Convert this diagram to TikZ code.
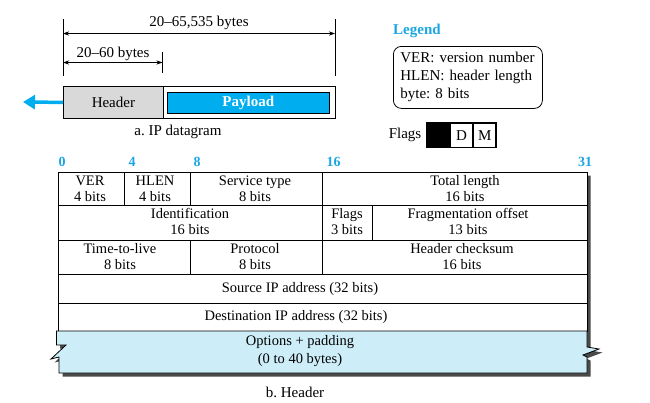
\documentclass[tikz,border=0pt]{standalone}
\usepackage{fontspec}
\setmainfont{Liberation Serif}
\usetikzlibrary{arrows.meta}
\definecolor{cyanlab}{HTML}{1BA6E3}
\definecolor{paycyan}{HTML}{00AEEF}
\definecolor{optfill}{HTML}{CDEEF9}
\definecolor{hdrgray}{HTML}{D9D9D9}
\definecolor{shadowgray}{HTML}{4A4A4A}
\frenchspacing
\begin{document}
\begin{tikzpicture}[x=1pt,y=-1pt,
  txt/.style={font=\fontsize{14.5}{16}\selectfont, align=center, inner sep=0pt},
  bigtxt/.style={font=\fontsize{15}{18}\selectfont, inner sep=0pt},
  bitlab/.style={font=\fontsize{14}{14}\selectfont\bfseries, text=cyanlab, inner sep=0pt},
  gridline/.style={line width=0.8pt},
  dimline/.style={line width=0.6pt, {Stealth[length=6pt,width=4pt]}-{Stealth[length=6pt,width=4pt]}},
  tickline/.style={line width=0.6pt},
  bluearrow/.style={draw=paycyan, line width=3.5pt, -{Triangle[length=12pt,width=14pt]}},
]
\useasboundingbox (0,0) rectangle (650,402);

% ---------- a. IP datagram ----------
\coordinate (tA1) at (63,19);   \coordinate (tA2) at (63,76);
\coordinate (tB1) at (162.5,52); \coordinate (tB2) at (162.5,73);
\coordinate (tC1) at (335,19);  \coordinate (tC2) at (335,76);
\draw[tickline] (tA1) -- (tA2);
\draw[tickline] (tB1) -- (tB2);
\draw[tickline] (tC1) -- (tC2);
\coordinate (dL1) at (63,33.5);  \coordinate (dR1) at (335,33.5);
\coordinate (dL2) at (63,62.5);  \coordinate (dR2) at (162.5,62.5);
\draw[dimline] (dL1) -- (dR1);
\draw[dimline] (dL2) -- (dR2);
\node[bigtxt, anchor=base] (lenall) at (199,26) {20--65,535 bytes};
\node[bigtxt, anchor=base] (lenhdr) at (113,57.5) {20--60 bytes};

\node[draw, line width=0.8pt, minimum width=272pt, minimum height=32pt, inner sep=0pt, anchor=north west] (dgram) at (63,86) {};
\node[draw, line width=0.8pt, fill=hdrgray, minimum width=100pt, minimum height=32pt, inner sep=0pt, anchor=north west, bigtxt] (hdr) at (63,86) {Header};
\node[draw, line width=0.6pt, fill=paycyan, minimum width=162pt, minimum height=21pt, inner sep=0pt, anchor=north west, text=white, font=\fontsize{15}{18}\selectfont\bfseries] (pay) at (167,92) {Payload};
\coordinate (arrend) at (23,102);
\draw[bluearrow] (hdr.west) -- (arrend);
\node[bigtxt] (capa) at (178,132) {a. IP datagram};

% ---------- Legend ----------
\node[font=\fontsize{15}{18}\selectfont\bfseries, text=cyanlab, anchor=west, inner sep=0pt] (legt) at (393,31) {Legend};
\node[draw, line width=0.8pt, rounded corners=8pt, minimum width=149pt, minimum height=62pt, anchor=north west,
      text width=135pt, inner xsep=7pt, inner ysep=0pt, align=left, font=\fontsize{15}{18}\selectfont] (legbox) at (393,46)
  {VER: version number\\HLEN: header length\\byte: 8 bits};

% ---------- Flags ----------
\node[bigtxt, anchor=base] (flagslab) at (405,138) {Flags};
\node[fill=black, minimum width=71pt, minimum height=26pt, inner sep=0pt, anchor=north west] (flagbox) at (426,122) {};
\node[fill=white, minimum width=20.5pt, minimum height=22.5pt, inner sep=0pt, anchor=north west, bigtxt] (flagD) at (451,124) {D};
\node[fill=white, minimum width=21pt, minimum height=22.5pt, inner sep=0pt, anchor=north west, bigtxt] (flagM) at (474,124) {M};

% ---------- b. Header ----------
% bit labels
\node[bitlab] (b0)  at (62,161.5) {0};
\node[bitlab] (b4)  at (132,161.5) {4};
\node[bitlab] (b8)  at (197,161.5) {8};
\node[bitlab] (b16) at (333.5,161.5) {16};
\node[bitlab] (b31) at (585,161.5) {31};

% shadow
\fill[shadowgray, shift={(3.5,3.5)}] (58,172) -- (587,172) -- (587,347) -- (599,349) -- (583,355) -- (587,357) -- (587,373)
  -- (59,373) -- (59,357) -- (51,359) -- (66,345) -- (56.5,345) -- (56.5,331) -- (58,331) -- cycle;
% upper table
\draw[gridline, fill=white] (58,172) rectangle (587,331);
\draw[gridline] (58,205) -- (587,205);
\draw[gridline] (58,240) -- (587,240);
\draw[gridline] (58,274) -- (587,274);
\draw[gridline] (58,303) -- (587,303);
\draw[gridline] (124,172) -- (124,205);
\draw[gridline] (190,172) -- (190,205);
\draw[gridline] (322.5,172) -- (322.5,274);
\draw[gridline] (372,205) -- (372,240);
\draw[gridline] (190,240) -- (190,274);
\draw[line width=1.4pt] (322.5,205.5) -- (372.4,205.5);
% options
\draw[gridline, fill=optfill] (56.5,331) -- (587,331) -- (587,347) -- (599,349) -- (583,355) -- (587,357) -- (587,373)
  -- (59,373) -- (59,357) -- (51,359) -- (66,345) -- (56.5,345) -- cycle;

% cell texts
\node[txt] (ver)   at (90,189)   {VER\\4 bits};
\node[txt] (hlen)  at (155,189)  {HLEN\\4 bits};
\node[txt] (serv)  at (255,189)  {Service type\\8 bits};
\node[txt] (totl)  at (465,189)  {Total length\\16 bits};
\node[txt] (ident) at (190,221.5) {Identification\\16 bits};
\node[txt] (flg)   at (347,221.5) {Flags\\3 bits};
\node[txt] (frag)  at (468,221.5) {Fragmentation offset\\13 bits};
\node[txt] (ttl)   at (120,257)  {Time-to-live\\8 bits};
\node[txt] (prot)  at (255,257)  {Protocol\\8 bits};
\node[txt] (hcs)   at (462,257)  {Header checksum\\16 bits};
\node[txt] (src)   at (300,289)  {Source IP address (32 bits)};
\node[txt] (dst)   at (296,317.5) {Destination IP address (32 bits)};
\node[txt, font=\fontsize{14.5}{18}\selectfont] (opt) at (300,351) {Options + padding\\(0 to 40 bytes)};
\node[bigtxt] (capb) at (295,392) {b. Header};
\end{tikzpicture}
\end{document}
